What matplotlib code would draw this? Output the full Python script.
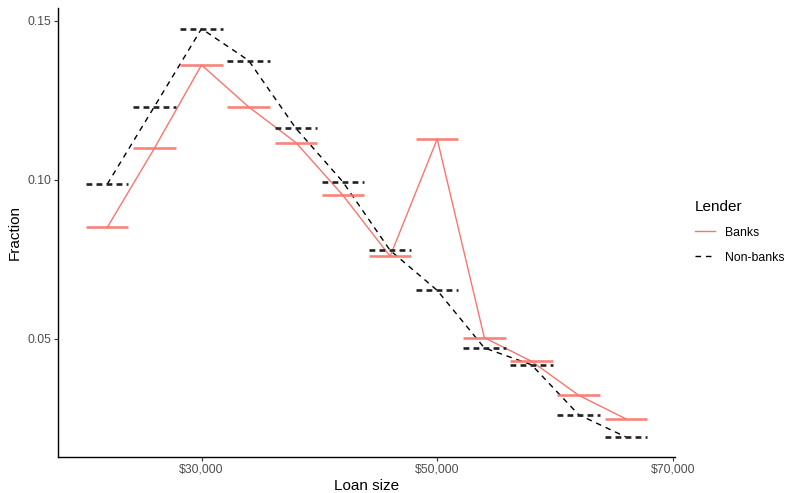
import matplotlib
matplotlib.use('Agg')
import matplotlib.pyplot as plt
from matplotlib.lines import Line2D
from matplotlib.ticker import FuncFormatter

plt.rcParams['font.family'] = ['Liberation Sans', 'DejaVu Sans']

# Loan size bins (midpoints) and fraction of loans per lender type
loan_size = [22000, 26000, 30000, 34000, 38000, 42000, 46000, 50000, 54000, 58000, 62000, 66000]
banks = [0.0850, 0.1099, 0.1361, 0.1229, 0.1117, 0.0951, 0.0759, 0.1128, 0.0503, 0.0429, 0.0322, 0.0248]
nonbanks = [0.0986, 0.1230, 0.1475, 0.1375, 0.1162, 0.0993, 0.0778, 0.0652, 0.0471, 0.0418, 0.0261, 0.0191]
x_ticks = [30000, 50000, 70000]
y_ticks = [0.05, 0.10, 0.15]

bank_col = '#F8766D'
bar_half = 1800

fig = plt.figure(figsize=(7.87, 4.93), dpi=100)
ax = fig.add_axes([58 / 787, 36 / 493, 617 / 787, 449 / 493])

# lines
ax.plot(loan_size, banks, color=bank_col, lw=1.0)
ax.plot(loan_size, nonbanks, color='black', lw=1.0, dashes=(4, 3.5))

# flat error bars (crossbars) at each point
for x, b, n in zip(loan_size, banks, nonbanks):
    ax.plot([x - bar_half, x + bar_half], [b, b], color=bank_col, lw=1.9, alpha=0.9,
            solid_capstyle='butt')
    ax.plot([x - bar_half, x + bar_half], [n, n], color='#222222', lw=1.9,
            dashes=(2.2, 1.6))

ax.set_xlim(17820, 70180)
ax.set_ylim(0.01278, 0.15402)
ax.set_xticks(x_ticks)
ax.set_yticks(y_ticks)
ax.xaxis.set_major_formatter(FuncFormatter(lambda v, p: '${:,.0f}'.format(v)))
ax.yaxis.set_major_formatter(FuncFormatter(lambda v, p: '{:.2f}'.format(v)))

for s in ['top', 'right']:
    ax.spines[s].set_visible(False)
for s in ['left', 'bottom']:
    ax.spines[s].set_linewidth(1.0)
    ax.spines[s].set_color('black')
ax.tick_params(axis='both', length=3, width=0.8, color='#333333',
               labelsize=8.8, labelcolor='#4d4d4d', pad=2)

ax.set_xlabel('Loan size', fontsize=11, labelpad=2)
ax.set_ylabel('Fraction', fontsize=11, labelpad=4)

# legend
handles = [Line2D([], [], color=bank_col, lw=1.0),
           Line2D([], [], color='black', lw=1.0, dashes=(4, 3.5))]
leg = fig.legend(handles, ['Banks', 'Non-banks'], title='Lender', loc='upper left',
                 bbox_to_anchor=(690 / 787, 1 - 195 / 493), frameon=False,
                 fontsize=8.8, title_fontsize=11, handlelength=1.64,
                 labelspacing=1.05, handletextpad=0.82, borderaxespad=0)
leg._legend_box.align = 'left'

fig.savefig('out.png', dpi=100)
